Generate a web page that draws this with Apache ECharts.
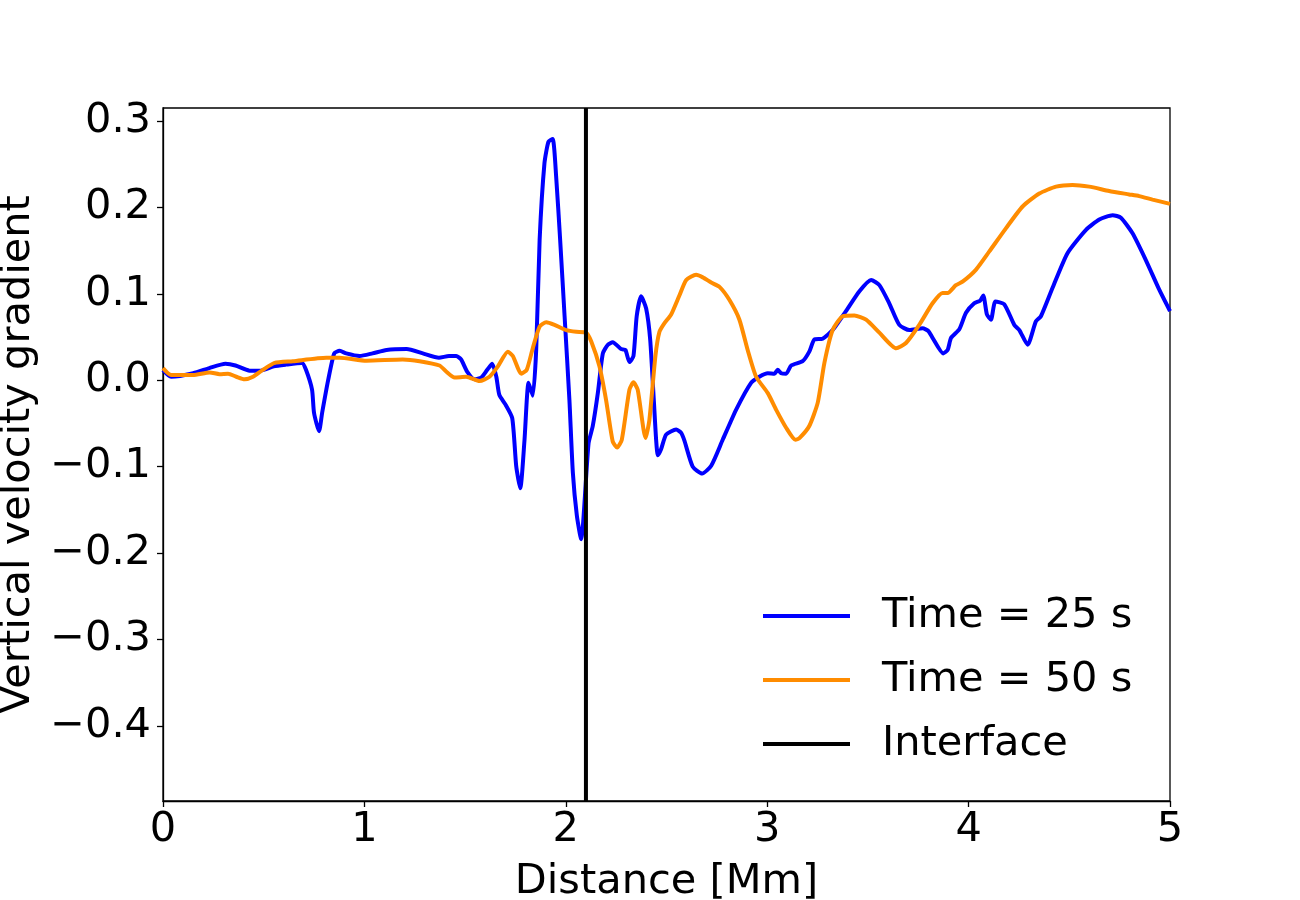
<!DOCTYPE html>
<html>
<head>
<meta charset="utf-8">
<script src="https://cdn.jsdelivr.net/npm/echarts@6/dist/echarts.min.js"></script>
<style>
  html, body { margin: 0; padding: 0; background: #fff; }
  #chart { width: 1300px; height: 900px; }
</style>
</head>
<body>
<div id="chart"></div>
<script>
// Time = 25 s
var dist25 = [0.00, 0.04, 0.15, 0.23, 0.31, 0.36, 0.43, 0.48, 0.55, 0.61, 0.69, 0.71, 0.74, 0.75, 0.775, 0.79, 0.82, 0.85, 0.877, 0.91,
  0.976, 1.04, 1.11, 1.21, 1.29, 1.37, 1.42, 1.456, 1.48, 1.51, 1.547, 1.58, 1.61, 1.635, 1.655, 1.67, 1.70, 1.734, 1.754, 1.774,
  1.795, 1.815, 1.836, 1.853, 1.87, 1.894, 1.914, 1.935, 1.952, 1.972, 1.994, 2.018, 2.035, 2.055, 2.076, 2.113, 2.134, 2.159, 2.184, 2.209,
  2.233, 2.275, 2.296, 2.316, 2.336, 2.352, 2.374, 2.399, 2.419, 2.437, 2.457, 2.473, 2.498, 2.548, 2.573, 2.589, 2.63, 2.677, 2.722, 2.779,
  2.846, 2.92, 2.961, 3.003, 3.036, 3.052, 3.069, 3.094, 3.119, 3.176, 3.209, 3.234, 3.275, 3.325, 3.391, 3.458, 3.516, 3.557, 3.606, 3.656,
  3.706, 3.772, 3.80, 3.821, 3.874, 3.896, 3.913, 3.954, 3.987, 4.028, 4.057, 4.073, 4.091, 4.111, 4.133, 4.177, 4.227, 4.252, 4.293, 4.334,
  4.359, 4.417, 4.491, 4.583, 4.649, 4.715, 4.756, 4.814, 4.880, 4.946, 5.0];
var grad25 = [0.012, 0.004, 0.008, 0.014, 0.019, 0.017, 0.011, 0.011, 0.016, 0.018, 0.020, 0.012, -0.011, -0.038, -0.059, -0.038, 0.000, 0.031, 0.034, 0.031,
  0.028, 0.031, 0.035, 0.036, 0.031, 0.026, 0.028, 0.028, 0.024, 0.010, 0.001, 0.003, 0.012, 0.019, 0.004, -0.017, -0.028, -0.044, -0.100, -0.125,
  -0.069, -0.003, -0.018, 0.035, 0.162, 0.251, 0.276, 0.279, 0.236, 0.162, 0.074, -0.023, -0.107, -0.157, -0.184, -0.073, -0.053, -0.015, 0.031, 0.041,
  0.044, 0.036, 0.035, 0.021, 0.028, 0.074, 0.097, 0.083, 0.047, -0.023, -0.087, -0.080, -0.063, -0.057, -0.061, -0.070, -0.100, -0.108, -0.099, -0.069,
  -0.034, -0.003, 0.004, 0.008, 0.0075, 0.012, 0.008, 0.0075, 0.017, 0.022, 0.033, 0.047, 0.048, 0.058, 0.080, 0.103, 0.116, 0.110, 0.089, 0.064,
  0.058, 0.060, 0.057, 0.049, 0.031, 0.035, 0.049, 0.059, 0.078, 0.089, 0.092, 0.098, 0.076, 0.070, 0.091, 0.088, 0.064, 0.058, 0.041, 0.068,
  0.074, 0.107, 0.147, 0.174, 0.186, 0.191, 0.188, 0.170, 0.139, 0.105, 0.080];

// Time = 50 s
var dist50 = [0.00, 0.04, 0.149, 0.232, 0.281, 0.323, 0.364, 0.405, 0.447, 0.496, 0.554, 0.645, 0.811, 0.877, 1.01, 1.19, 1.274, 1.373, 1.406, 1.448,
  1.505, 1.572, 1.621, 1.663, 1.712, 1.737, 1.779, 1.806, 1.836, 1.87, 1.903, 1.944, 2.002, 2.052, 2.101, 2.126, 2.167, 2.20, 2.233, 2.255,
  2.278, 2.316, 2.336, 2.357, 2.396, 2.415, 2.445, 2.465, 2.49, 2.523, 2.564, 2.598, 2.647, 2.68, 2.722, 2.763, 2.812, 2.862, 2.903, 2.945,
  3.003, 3.044, 3.094, 3.14, 3.16, 3.209, 3.251, 3.284, 3.325, 3.375, 3.433, 3.491, 3.557, 3.64, 3.689, 3.755, 3.821, 3.871, 3.896, 3.937,
  3.97, 4.037, 4.103, 4.186, 4.268, 4.351, 4.434, 4.516, 4.599, 4.698, 4.797, 4.847, 4.913, 5.0];
var grad50 = [0.014, 0.006, 0.006, 0.009, 0.007, 0.0075, 0.004, 0.001, 0.004, 0.012, 0.020, 0.022, 0.026, 0.026, 0.0225, 0.024, 0.022, 0.017, 0.010, 0.003,
  0.004, -0.001, 0.004, 0.016, 0.033, 0.028, 0.0075, 0.012, 0.037, 0.062, 0.067, 0.064, 0.058, 0.056, 0.055, 0.045, 0.016, -0.023, -0.071, -0.078,
  -0.069, -0.011, -0.0025, -0.011, -0.067, -0.046, 0.028, 0.056, 0.066, 0.076, 0.098, 0.116, 0.122, 0.119, 0.113, 0.108, 0.093, 0.070, 0.035, 0.004,
  -0.015, -0.034, -0.055, -0.069, -0.067, -0.053, -0.026, 0.020, 0.058, 0.074, 0.075, 0.070, 0.055, 0.037, 0.043, 0.064, 0.089, 0.101, 0.101, 0.110,
  0.114, 0.128, 0.149, 0.176, 0.201, 0.216, 0.224, 0.226, 0.224, 0.219, 0.215, 0.213, 0.209, 0.204];

var interfaceX = 2.1;
var yTicks = [-0.4, -0.3, -0.2, -0.1, 0.0, 0.1, 0.2, 0.3];
var yMin = -0.487, yMax = 0.315;

function pairs(xs, ys) {
  var out = [];
  for (var i = 0; i < xs.length; i++) out.push([xs[i], ys[i]]);
  return out;
}

var font = 'DejaVu Sans';
var fs = 41.5;
var chart = echarts.init(document.getElementById('chart'));
var option = {
  animation: false,
  backgroundColor: '#fff',
  textStyle: { fontFamily: font },
  grid: {
    left: 163, right: 130, top: 108, bottom: 99,
    outerBoundsMode: 'none', containLabel: false,
    show: true, borderColor: '#000', borderWidth: 1.3, backgroundColor: 'transparent'
  },
  legend: {
    orient: 'vertical',
    left: 758, top: 589,
    icon: 'rect',
    itemWidth: 87, itemHeight: 4,
    itemGap: 20,
    textStyle: { fontFamily: font, fontSize: fs, color: '#000', lineHeight: 44, padding: [0, 0, 0, 27] },
    data: ['Time = 25 s', 'Time = 50 s', 'Interface']
  },
  xAxis: {
    type: 'value',
    min: 0, max: 5, interval: 1,
    name: 'Distance [Mm]',
    nameLocation: 'middle',
    nameGap: 60,
    nameTextStyle: { fontFamily: font, fontSize: fs, color: '#000' },
    axisLine: { show: true, onZero: false, lineStyle: { color: '#000', width: 1.3 } },
    axisTick: { show: true, length: 6, lineStyle: { color: '#000', width: 1.3 } },
    axisLabel: { fontFamily: font, fontSize: fs, color: '#000', margin: 8 },
    splitLine: { show: false }
  },
  yAxis: {
    type: 'value',
    min: yMin, max: yMax,
    name: 'Vertical velocity gradient',
    nameLocation: 'middle',
    nameGap: 117,
    nameRotate: 90,
    nameTextStyle: { fontFamily: font, fontSize: fs, color: '#000' },
    axisLine: { show: true, onZero: false, lineStyle: { color: '#000', width: 1.3 } },
    axisTick: { show: true, length: 6, customValues: yTicks, lineStyle: { color: '#000', width: 1.3 } },
    axisLabel: {
      fontFamily: font, fontSize: fs, color: '#000', margin: 12,
      customValues: yTicks,
      formatter: function (v) { return (v < -1e-9 ? '\u2212' : '') + Math.abs(v).toFixed(1); }
    },
    splitLine: { show: false }
  },
  series: [
    {
      name: 'Time = 25 s', type: 'line', data: pairs(dist25, grad25),
      symbol: 'none', smooth: 0.2, z: 2,
      itemStyle: { color: '#0000ff' },
      lineStyle: { color: '#0000ff', width: 4 }
    },
    {
      name: 'Time = 50 s', type: 'line', data: pairs(dist50, grad50),
      symbol: 'none', smooth: 0.2, z: 3,
      itemStyle: { color: '#ff8c00' },
      lineStyle: { color: '#ff8c00', width: 4 }
    },
    {
      name: 'Interface', type: 'line', data: [[interfaceX, yMin], [interfaceX, yMax]],
      symbol: 'none', z: 4,
      itemStyle: { color: '#000' },
      lineStyle: { color: '#000', width: 4 }
    }
  ]
};
chart.setOption(option);
</script>
</body>
</html>
